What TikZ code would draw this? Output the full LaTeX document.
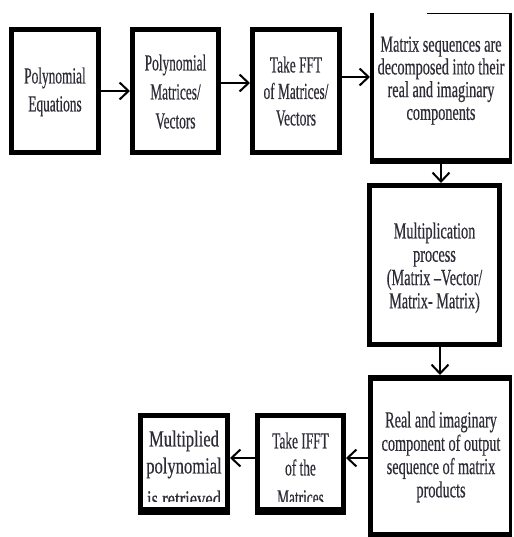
\documentclass[tikz,border=0pt]{standalone}
\usepackage{fontspec}
\setmainfont{Liberation Serif}
\newfontfamily\fA{Liberation Serif}[FakeStretch=0.58,FakeBold=0.4]
\newfontfamily\fB{Liberation Serif}[FakeStretch=0.62,FakeBold=0.4]
\newfontfamily\fC{Liberation Serif}[FakeStretch=0.72,FakeBold=0.4]
\usetikzlibrary{arrows.meta}
\definecolor{txtcol}{RGB}{45,45,55}
\tikzset{
  boxs/.style={draw=black, line width=5pt, inner sep=0pt},
  openbox/.style={draw=none, inner sep=0pt, outer sep=0pt},
  txt/.style={inner sep=0pt, align=center, anchor=north, text=txtcol},
  arr/.style={draw=black, line width=2pt, -{Straight Barb[length=9pt,width=17pt]}},
}
\begin{document}
\begin{tikzpicture}[x=1pt,y=-1pt]
\useasboundingbox (0,0) rectangle (513,537);
% boxes
\node[boxs, minimum width=87pt, minimum height=123pt] (b1) at (55,91) {};
\node[boxs, minimum width=86pt, minimum height=123pt] (b2) at (175.5,91) {};
\node[boxs, minimum width=87pt, minimum height=123pt] (b3) at (296,91) {};
\node[openbox, minimum width=142pt, minimum height=151pt] (b4) at (441,88.5) {};
\node[boxs, minimum width=130pt, minimum height=159pt] (b5) at (434.5,265) {};
\node[openbox, minimum width=144pt, minimum height=162pt] (b6) at (440,456) {};
\node[boxs, minimum width=86pt, minimum height=97pt] (b7) at (300.5,464) {};
\node[boxs, minimum width=87pt, minimum height=97pt] (b8) at (184,464) {};
% partial borders of box 4
\draw[line width=3.5pt] ([xshift=1.75pt]b4.north west) -- ([xshift=1.75pt]b4.south west);
\draw[line width=3pt] ([xshift=-1.5pt]b4.north east) -- ([xshift=-1.5pt]b4.south east);
\draw[line width=6pt] ([yshift=3pt]b4.south west) -- ([yshift=3pt]b4.south east);
\draw[line width=1.2pt] ([xshift=57pt,yshift=-0.6pt]b4.north west) -- ([xshift=-1pt,yshift=-0.6pt]b4.north east);
% borders of box 6
\draw[line width=5pt] ([xshift=2.5pt]b6.north west) -- ([xshift=2.5pt]b6.south west);
\draw[line width=3pt] ([xshift=-1.5pt]b6.north east) -- ([xshift=-1.5pt]b6.south east);
\draw[line width=6pt] ([yshift=-3pt]b6.north west) -- ([yshift=-3pt]b6.north east);
\draw[line width=5pt] ([yshift=2.5pt]b6.south west) -- ([yshift=2.5pt]b6.south east);
% thicker bottoms of boxes 7 and 8
\draw[line width=4pt] ([yshift=6pt]b7.south west) -- ([yshift=6pt]b7.south east);
\draw[line width=4pt] ([yshift=6pt]b8.south west) -- ([yshift=6pt]b8.south east);
% texts
\node[txt, font=\fA\fontsize{23}{28}\selectfont] (t1) at (55,67.3) {Polynomial\\Equations};
\node[txt, font=\fA\fontsize{23}{29}\selectfont] (t2) at (175.5,54.3) {Polynomial\\Matrices/\\Vectors};
\node[txt, font=\fA\fontsize{23}{26.5}\selectfont] (t3) at (296,56.3) {Take FFT\\of Matrices/\\Vectors};
\node[txt, font=\fB\fontsize{23}{22.7}\selectfont] (t4) at (441,36.3) {Matrix sequences are\\decomposed into their\\real and imaginary\\components};
\node[txt, font=\fB\fontsize{23}{23.3}\selectfont] (t5) at (434.5,222.3) {Multiplication\\process\\(Matrix –Vector/\\Matrix- Matrix)};
\node[txt, font=\fB\fontsize{23}{23.3}\selectfont] (t6) at (441,411.3) {Real and imaginary\\component of output\\sequence of matrix\\products};
\begin{scope}
\clip ([yshift=14pt]b7.south west) rectangle (b7.north east);
\node[txt, font=\fA\fontsize{23}{27}\selectfont] (t7) at (300.5,432.3) {Take IFFT\\of the\\[3pt]Matrices};
\end{scope}
\begin{scope}
\clip ([yshift=14pt]b8.south west) rectangle (b8.north east);
\node[txt, font=\fC\fontsize{23}{27}\selectfont] (t8) at (184,430.3) {Multiplied\\polynomial\\[6pt]is retrieved};
\end{scope}
% connectors
\draw[arr] (b1.east) -- (b2.west);
\draw[arr] ([yshift=8pt]b2.east) -- ([yshift=8pt]b3.west);
\coordinate (a3) at ([yshift=14pt]b3.east);
\draw[arr] (a3) -- (a3 -| b4.west);
\draw[arr] (b4.south) -- (b4.south |- b5.north);
\draw[arr] (b6.north |- b5.south) -- (b6.north);
\coordinate (a6) at ([yshift=6pt]b7.east);
\draw[arr] (a6 -| b6.west) -- (a6);
\draw[arr] ([yshift=6pt]b7.west) -- ([yshift=6pt]b8.east);
\end{tikzpicture}
\end{document}
